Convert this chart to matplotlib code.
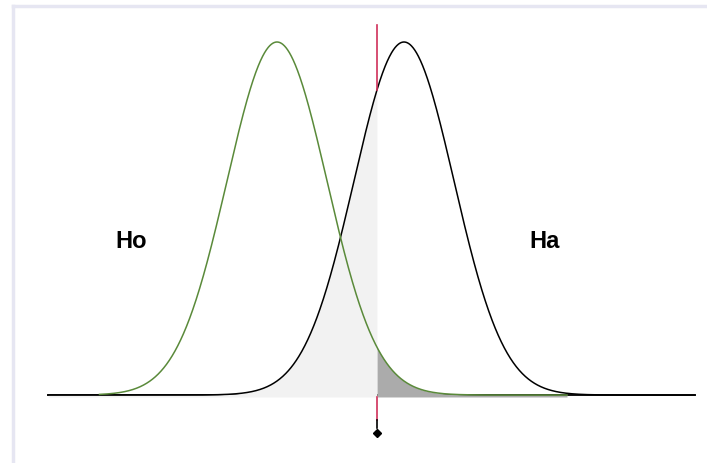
import numpy as np
import matplotlib
matplotlib.use("Agg")
import matplotlib.pyplot as plt

# Data (in standard-deviation units)
mu_null = 0.0
mu_alt = 2.54
sd = 1.0
crit = 2.0
x_range = (-4.58, 8.36)
null_range = (-3.55, 5.8)
labels = ["Ho", "Ha"]
label_x = [-2.92, 5.36]
label_y = 0.174

def pdf(x, mu):
    return np.exp(-0.5 * ((x - mu) / sd) ** 2) / (sd * np.sqrt(2 * np.pi))

fig = plt.figure(figsize=(7.07, 4.63), dpi=100)
ax = fig.add_axes([0, 0, 1, 1])
ax.set_xlim(-5.54, 8.60)
ax.set_ylim(-0.0768, 0.4464)
ax.axis("off")

x = np.linspace(x_range[0], x_range[1], 1500)
f1 = pdf(x, mu_alt)
x0 = np.linspace(null_range[0], null_range[1], 1500)
f0 = pdf(x0, mu_null)

# baseline
ax.plot(x_range, [0, 0], color="black", lw=1.3, zorder=1)

# light gray: beta region (Ha, left of crit)
m = x <= crit
ax.fill_between(x[m], -0.0022, f1[m], color="#f2f2f2", lw=0, zorder=2)
# dark gray: alpha region (Ho, right of crit)
m2 = x0 >= crit
ax.fill_between(x0[m2], -0.0022, f0[m2], color="#ababab", lw=0, zorder=3)

ax.plot(x, f1, color="black", lw=1.1, zorder=4)
ax.plot(x0, f0, color="#5a8a3a", lw=1.1, zorder=5)

# critical value line (hidden under the shaded area)
ax.plot([crit, crit], [pdf(crit, mu_alt), 0.418], color="#d0305a", lw=1.2, zorder=6)
ax.plot([crit, crit], [-0.028, -0.0022], color="#d0305a", lw=1.2, zorder=6)
ax.plot([crit, crit], [-0.037, -0.028], color="black", lw=1.2, zorder=6)
ax.plot([crit], [-0.043], marker="D", color="black", ms=4.5, zorder=7)

for t, lx in zip(labels, label_x):
    ax.text(lx, label_y, t, fontsize=17, fontweight="bold", family="Liberation Sans",
            ha="center", va="center", color="black")

# faint frame
bx = ax.transAxes
ax.plot([13/707, 13/707], [0, 1 - 6/463], transform=bx, color="#e6e6f2", lw=2.5, clip_on=False)
ax.plot([13/707, 1], [1 - 6/463, 1 - 6/463], transform=bx, color="#e6e6f2", lw=2.5, clip_on=False)

fig.savefig("out.png", dpi=100, facecolor="white")
